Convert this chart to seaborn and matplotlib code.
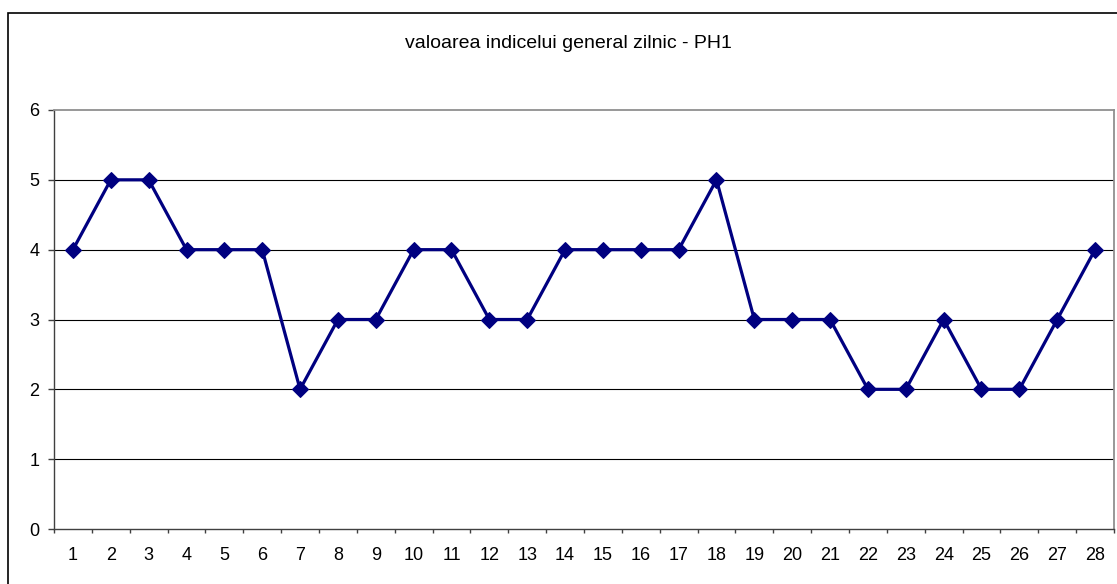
import numpy as np
import matplotlib
matplotlib.use("Agg")
import matplotlib.pyplot as plt
import seaborn as sns
import pandas as pd
from matplotlib.patches import Rectangle
from matplotlib.ticker import MultipleLocator, FixedLocator

zile = list(range(1, 29))
valori = [4, 5, 5, 4, 4, 4, 2, 3, 3, 4, 4, 3, 3, 4, 4, 4, 4, 5, 3, 3, 3, 2, 2, 3, 2, 2, 3, 4]
titlu = "valoarea indicelui general zilnic - PH1"

df = pd.DataFrame({"zi": zile, "valoare": valori})

sns.set_style("white")
plt.rcParams["font.family"] = ["Liberation Sans", "DejaVu Sans"]
plt.rcParams["text.color"] = "black"
plt.rcParams["xtick.labelcolor"] = "black"
plt.rcParams["ytick.labelcolor"] = "black"

fig = plt.figure(figsize=(11.17, 5.84), dpi=100)
ax = fig.add_axes([54 / 1117, 1 - 529 / 584, (1114 - 54) / 1117, (529 - 110) / 584])

# grid lines
for y in range(1, 6):
    ax.axhline(y, color="black", lw=0.8, zorder=0)

sns.lineplot(data=df, x="zi", y="valoare", ax=ax, color="#000080", lw=2.3,
             marker="D", markersize=8.5, markeredgecolor="#000080", zorder=3)

ax.set_xlim(0.5, 28.5)
ax.set_ylim(0, 6)
ax.set_xlabel("")
ax.set_ylabel("")

ax.xaxis.set_major_locator(FixedLocator(zile))
ax.xaxis.set_minor_locator(FixedLocator(np.arange(0.5, 28.6, 1)))
ax.yaxis.set_major_locator(MultipleLocator(1))
ax.tick_params(axis="x", which="major", length=0, pad=13, labelsize=13, labelcolor="black")
ax.tick_params(axis="x", which="minor", length=3, width=1, color="#404040", direction="out", bottom=True)
ax.tick_params(axis="y", which="major", length=4.5, width=1, color="#404040", pad=6, labelsize=13,
               left=True, labelcolor="black")

for s in ["left", "bottom"]:
    ax.spines[s].set_color("#404040")
    ax.spines[s].set_linewidth(1.0)
for s in ["top", "right"]:
    ax.spines[s].set_color("#909090")
    ax.spines[s].set_linewidth(1.3)

fig.text(568 / 1117, 1 - 43 / 584, titlu, fontsize=14, ha="center", va="center", color="black")

# outer chart border
fig.patches.append(Rectangle((8 / 1117, -0.2), 2, 1.2 - 13 / 584, transform=fig.transFigure,
                             fill=False, edgecolor="black", lw=1.2))

fig.savefig("out.png", dpi=100)
